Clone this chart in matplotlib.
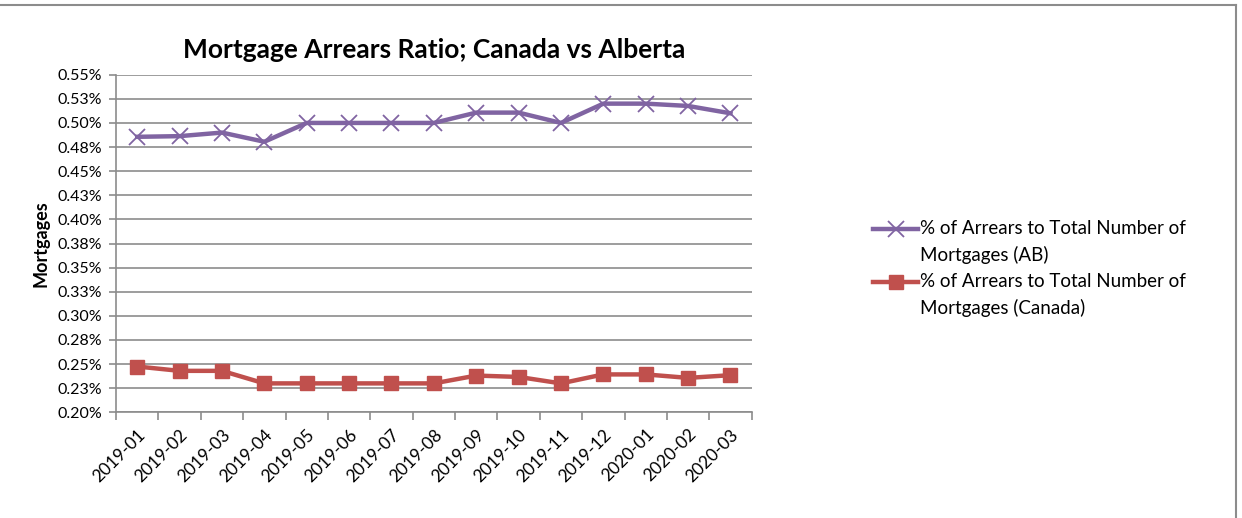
import matplotlib
matplotlib.use("Agg")
import matplotlib.pyplot as plt
from matplotlib.lines import Line2D
from matplotlib.ticker import FuncFormatter, MultipleLocator, FixedLocator
import numpy as np

# данные
months = ["2019-01", "2019-02", "2019-03", "2019-04", "2019-05", "2019-06",
          "2019-07", "2019-08", "2019-09", "2019-10", "2019-11", "2019-12",
          "2020-01", "2020-02", "2020-03"]
ab_ratio = [0.4856, 0.4863, 0.4900, 0.4805, 0.5000, 0.5000, 0.5000, 0.5000,
            0.5107, 0.5107, 0.5000, 0.5200, 0.5200, 0.5176, 0.5100]
canada_ratio = [0.2475, 0.2430, 0.2430, 0.2300, 0.2300, 0.2300, 0.2300, 0.2300,
                0.2381, 0.2367, 0.2300, 0.2393, 0.2393, 0.2357, 0.2385]

ab_label = "% of Arrears to Total Number of\nMortgages (AB)"
ca_label = "% of Arrears to Total Number of\nMortgages (Canada)"

plt.rcParams["font.family"] = ["Lato", "DejaVu Sans"]

W, H = 1242, 518
fig = plt.figure(figsize=(W / 100, H / 100), dpi=100)
ax = fig.add_axes([0.0934, 0.204, 0.5118, 0.6518])

x = np.arange(len(months))
ab_style = dict(color="#8064A2", lw=3.2, marker="x", ms=12, mew=1.3)
ca_style = dict(color="#C0504D", lw=3.2, marker="s", ms=10)
ax.plot(x, ab_ratio, **ab_style)
ax.plot(x, canada_ratio, **ca_style)

ax.set_xlim(-0.5, len(months) - 0.5)
ax.set_ylim(0.2, 0.55)
ax.yaxis.set_major_locator(MultipleLocator(0.025))
ax.yaxis.set_major_formatter(FuncFormatter(lambda v, p: f"{v:.2f}%"))
ax.grid(axis="y", color="#8c8c8c", lw=1.2)
ax.set_axisbelow(True)

ax.set_xticks(x)
ax.set_xticklabels(months, rotation=45, ha="right", rotation_mode="anchor",
                   fontsize=12.5)
ax.xaxis.set_minor_locator(FixedLocator(np.arange(-0.5, len(months), 1)))
ax.tick_params(axis="x", which="major", length=0, pad=10)
ax.tick_params(axis="x", which="minor", length=6, color="#8c8c8c", width=1.2)
ax.tick_params(axis="y", length=5, color="#8c8c8c", width=1.2, labelsize=11.5,
               pad=5)

for s in ["top", "right"]:
    ax.spines[s].set_visible(False)
for s in ["left", "bottom"]:
    ax.spines[s].set_color("#8c8c8c")
    ax.spines[s].set_linewidth(1.2)

ax.set_title("Mortgage Arrears Ratio; Canada vs Alberta", fontsize=19,
             fontweight="bold", pad=12)
ax.set_ylabel("Mortgages", fontsize=13, fontweight="bold", labelpad=6)

# легенда вручную: маркер на уровне первой строки подписи
for label, style, y_px in [(ab_label, ab_style, 229), (ca_label, ca_style, 282)]:
    yf = 1 - y_px / H
    fig.add_artist(Line2D([873 / W, 918 / W], [yf, yf], transform=fig.transFigure,
                          markevery=[1], **{**style, "marker": None}))
    fig.add_artist(Line2D([895.5 / W], [yf], transform=fig.transFigure,
                          **{**style, "lw": 0}))
    fig.text(920 / W, 1 - (y_px + 13) / H, label, fontsize=13.5, va="center",
             ha="left", linespacing=1.6)

# рамка вокруг диаграммы
fig.add_artist(Line2D([0, 1236 / W], [1 - 5 / H, 1 - 5 / H],
                      color="#8c8c8c", lw=1.5, transform=fig.transFigure))
fig.add_artist(Line2D([1236 / W, 1236 / W], [0, 1 - 5 / H],
                      color="#8c8c8c", lw=1.5, transform=fig.transFigure))

fig.savefig("out.png", dpi=100)
